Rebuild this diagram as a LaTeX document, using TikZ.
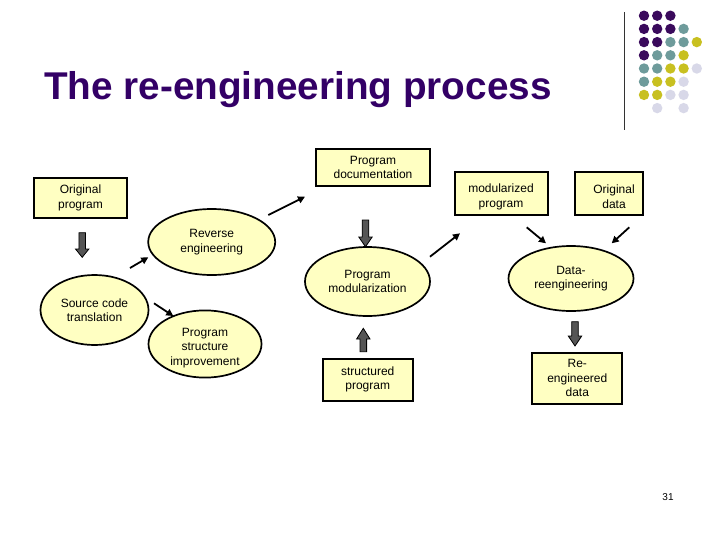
\documentclass[tikz,border=0pt]{standalone}
\usepackage{fontspec}
\setmainfont{Liberation Sans}
\usetikzlibrary{shapes.geometric,arrows.meta}
\definecolor{titlepurple}{RGB}{51,0,102}
\definecolor{dotpurple}{RGB}{58,10,92}
\definecolor{dotteal}{RGB}{110,155,155}
\definecolor{dotyellow}{RGB}{200,192,32}
\definecolor{dotlilac}{RGB}{216,216,232}
\definecolor{paleyellow}{RGB}{255,255,194}
\definecolor{arrowgray}{RGB}{85,85,85}
% fat arrow: x, tail y, head base y, tip y
\newcommand{\blockarrow}[4]{\draw[fat] (#1-3.3,#2) -- (#1+3.3,#2) -- (#1+3.3,#3) -- (#1+6.7,#3) -- (#1,#4) -- (#1-6.7,#3) -- (#1-3.3,#3) -- cycle;}
% pushes a text block down a little
\newcommand{\pushdown}[1]{\rule{0pt}{#1}}

\tikzset{
  box/.style={draw, line width=2pt, fill=paleyellow, align=center, inner sep=0pt,
    font=\fontsize{12}{14.5}\selectfont},
  blob/.style={ellipse, draw, line width=1.7pt, fill=paleyellow, align=center, inner sep=0pt,
    font=\fontsize{12}{14.5}\selectfont},
  flow/.style={-{Triangle[length=7pt,width=7pt]}, line width=1.8pt},
  fat/.style={fill=arrowgray, draw=black, line width=0.8pt}
}

\begin{document}
\begin{tikzpicture}[x=1pt, y=-1pt]
  \useasboundingbox[fill=white] (0,0) rectangle (717,538);

  % logo dots
  \draw[line width=1pt, black!80] (624,12) -- (624,130);
  \foreach \c/\r/\col in {0/0/dotpurple, 1/0/dotpurple, 2/0/dotpurple,
      0/1/dotpurple, 1/1/dotpurple, 2/1/dotpurple, 3/1/dotteal,
      0/2/dotpurple, 1/2/dotpurple, 2/2/dotteal, 3/2/dotteal, 4/2/dotyellow,
      0/3/dotpurple, 1/3/dotteal, 2/3/dotteal, 3/3/dotyellow,
      0/4/dotteal, 1/4/dotteal, 2/4/dotyellow, 3/4/dotyellow, 4/4/dotlilac,
      0/5/dotteal, 1/5/dotyellow, 2/5/dotyellow, 3/5/dotlilac,
      0/6/dotyellow, 1/6/dotyellow, 2/6/dotlilac, 3/6/dotlilac,
      1/7/dotlilac, 3/7/dotlilac}
    \fill[\col] (644+13.2*\c, 15.7+13.2*\r) circle (5.2);

  \node[anchor=base west, inner sep=0pt, text=titlepurple,
    font=\fontsize{38.7}{46}\selectfont\bfseries] (title) at (44,99.5) {The re-engineering process};

  % boxes
  \node[box, minimum width=114, minimum height=37] (doc) at (373,167.5) {Program\\documentation};
  \node[box, minimum width=93, minimum height=40] (origprog) at (80.5,198) {Original\\program};
  \node[box, minimum width=93, minimum height=43] (modprog) at (501,193.5) {\pushdown{15pt}modularized\\program};
  \node[box, minimum width=68, minimum height=43] (origdata) at (609,193.5) {\pushdown{15pt}\hspace*{10pt}Original\\\hspace*{10pt}data};
  \node[box, minimum width=90, minimum height=42] (structprog) at (367.7,379.5) {structured\\program};
  \node[box, minimum width=90, minimum height=51] (redata) at (577.3,378) {Re-\\engineered\\data};

  % processes
  \node[blob, minimum width=127, minimum height=66] (reveng) at (211.7,242) {Reverse\\engineering};
  \node[blob, minimum width=108, minimum height=70] (srctrans) at (94.5,310) {Source code\\translation};
  \node[blob, minimum width=113, minimum height=65] (structimp) at (205,344) {\pushdown{16pt}Program\\structure\\improvement};
  \node[blob, minimum width=125, minimum height=69] (progmod) at (367.5,281.5) {Program\\modularization};
  \node[blob, minimum width=125, minimum height=65] (datare) at (571,278.5) {Data-\\reengineering};

  \node[font=\fontsize{10}{12}\selectfont, inner sep=0pt] (pagenum) at (668,497) {31};

  % fat arrows
  \blockarrow{82.2}{232.7}{249}{257.3}   % origprog -> srctrans
  \blockarrow{365.5}{220}{237}{246.7}    % doc -> progmod
  \blockarrow{363.3}{351.7}{339}{328.3}  % structprog -> progmod
  \blockarrow{575}{321.7}{336}{346}      % datare -> redata

  % thin arrows
  \coordinate (s1) at (130,268);   \coordinate (e1) at (148.3,257.3);
  \coordinate (s2) at (154,303.3); \coordinate (e2) at (173.3,316);
  \coordinate (s3) at (268.3,215); \coordinate (e3) at (305,196.7);
  \coordinate (s4) at (430,256.7); \coordinate (e4) at (460,233.3);
  \coordinate (s5) at (526.7,227.3); \coordinate (e5) at (546,243.3);
  \coordinate (s6) at (629.3,227.3); \coordinate (e6) at (611.7,243.3);
  \draw[flow] (s1) -- (e1); % srctrans -> reveng
  \draw[flow] (s2) -- (e2); % srctrans -> structimp
  \draw[flow] (s3) -- (e3); % reveng -> doc
  \draw[flow] (s4) -- (e4); % progmod -> modprog
  \draw[flow] (s5) -- (e5); % modprog -> datare
  \draw[flow] (s6) -- (e6); % origdata -> datare
\end{tikzpicture}
\end{document}
